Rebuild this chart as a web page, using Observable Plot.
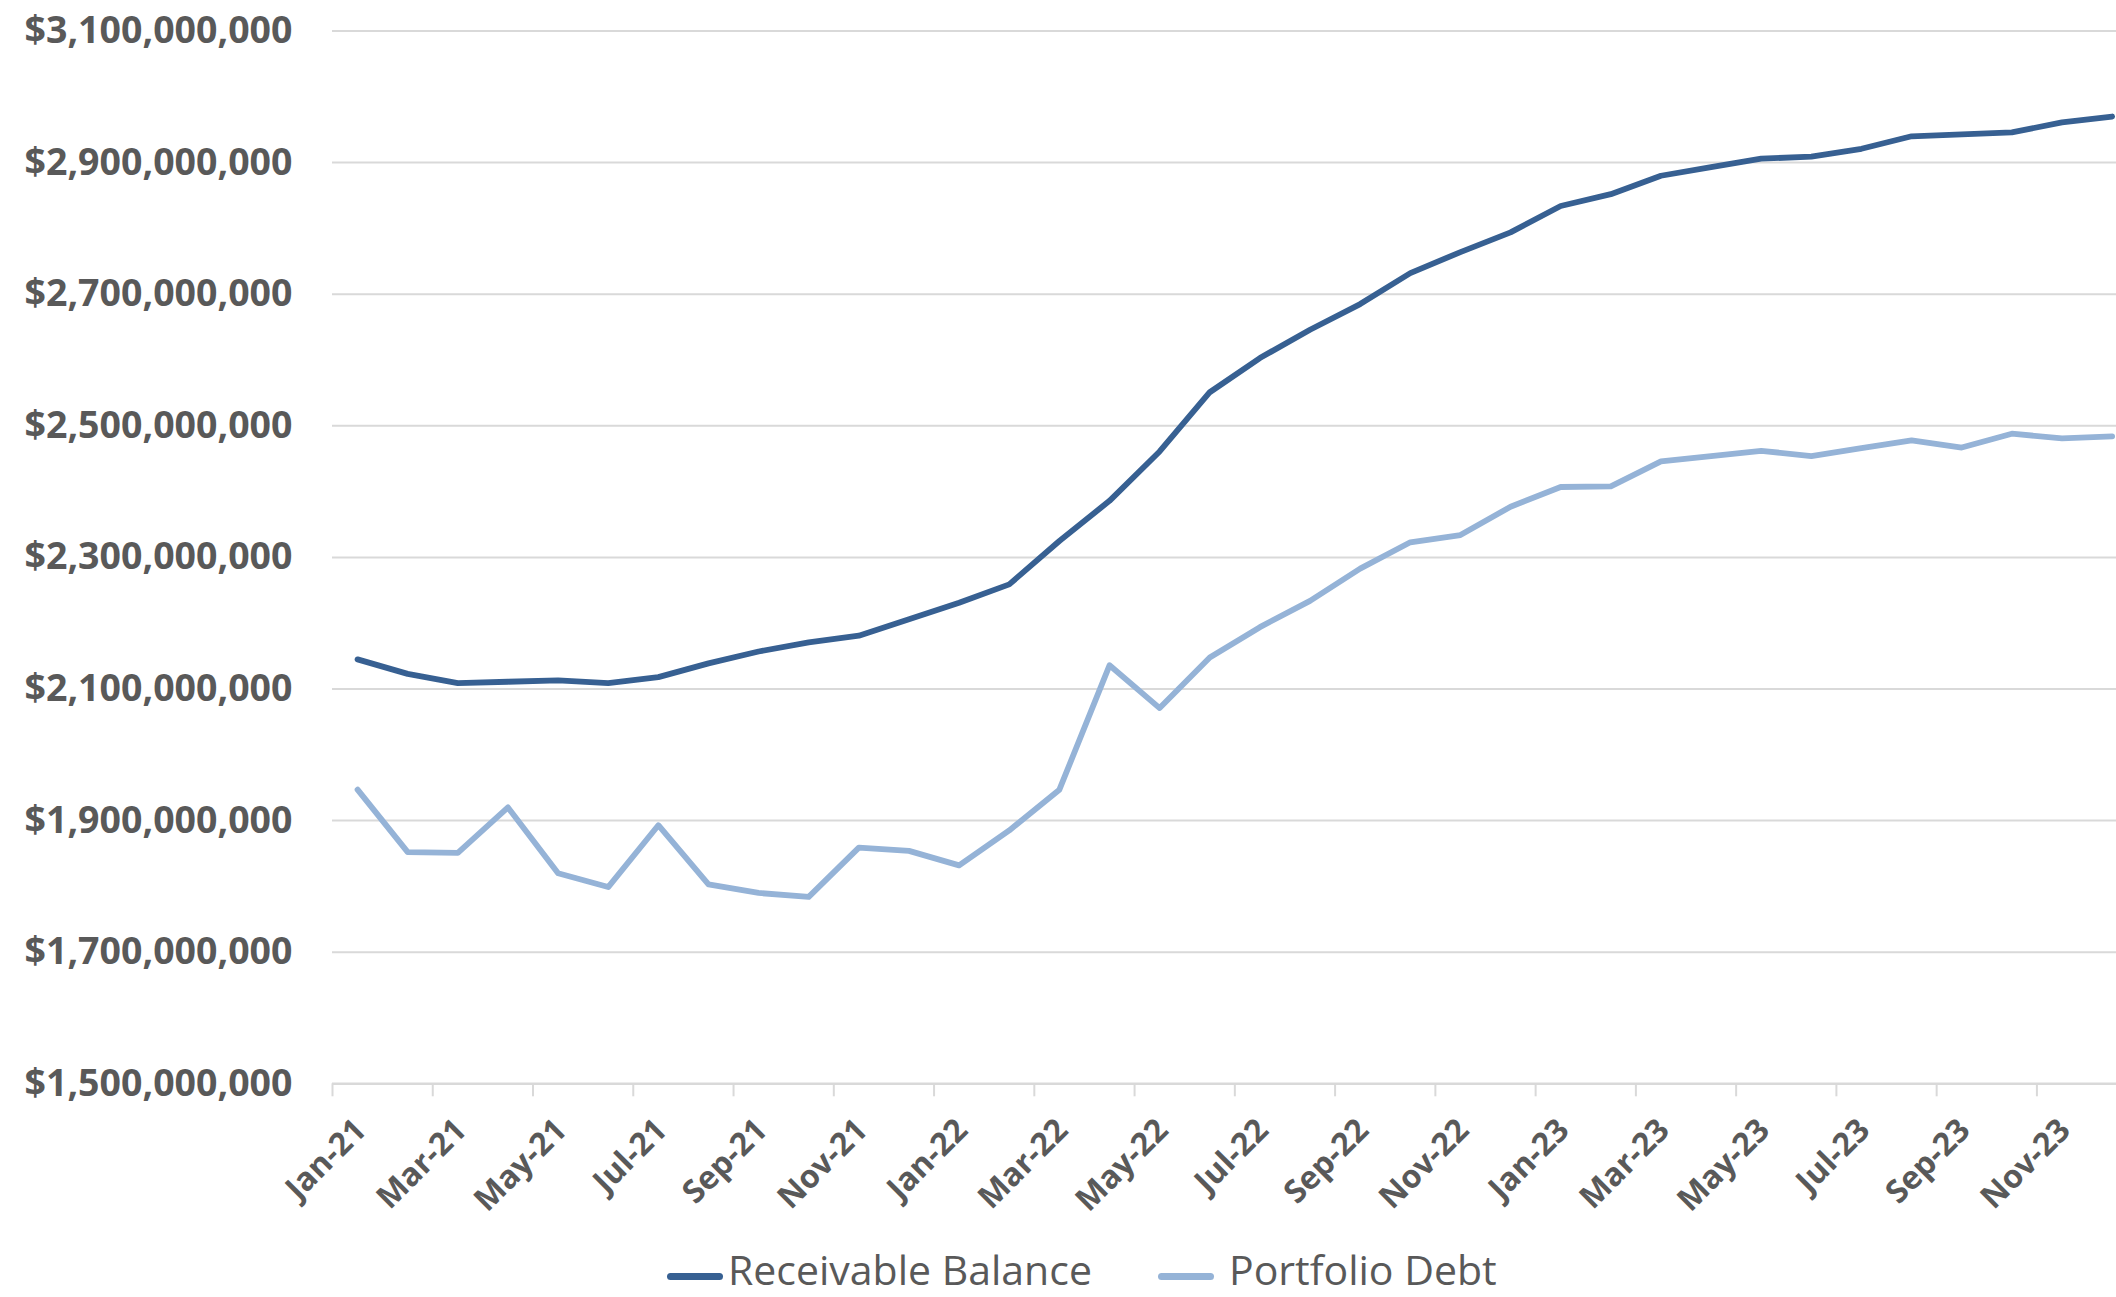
<!DOCTYPE html>
<html><head><meta charset="utf-8">
<script src="https://cdn.jsdelivr.net/npm/d3@7"></script>
<script src="https://cdn.jsdelivr.net/npm/@observablehq/plot@0.6"></script>
<style>
html,body{margin:0;padding:0;background:#fff;}
#chart svg{display:block;}
#legend{position:relative;width:2116px;height:52px;font-family:"Open Sans",sans-serif;}
.sw{position:absolute;height:7px;border-radius:4px;top:28px;}
.lt{position:absolute;font-size:41px;color:#595959;line-height:41px;top:4px;white-space:nowrap;}
</style></head><body>
<div id="chart"></div>
<div id="legend"></div>
<script>
const months = ["Jan-21","Feb-21","Mar-21","Apr-21","May-21","Jun-21","Jul-21","Aug-21","Sep-21","Oct-21","Nov-21","Dec-21",
  "Jan-22","Feb-22","Mar-22","Apr-22","May-22","Jun-22","Jul-22","Aug-22","Sep-22","Oct-22","Nov-22","Dec-22",
  "Jan-23","Feb-23","Mar-23","Apr-23","May-23","Jun-23","Jul-23","Aug-23","Sep-23","Oct-23","Nov-23","Dec-23"];
// values in millions of dollars
const receivableBalance = [2145,2123,2109,2111,2113,2109,2118,2139,2157,2171,2181,2206,
  2231,2259,2325,2386,2461,2551,2603,2646,2685,2732,2764,2794,
  2834,2852,2880,2893,2906,2909,2921,2940,2943,2946,2961,2970];
const portfolioDebt = [1947,1852,1851,1920,1820,1799,1893,1803,1790,1784,1859,1854,
  1832,1885,1947,2136,2071,2148,2194,2234,2283,2323,2334,2377,
  2407,2408,2446,2454,2462,2454,2466,2478,2467,2488,2481,2484];
const seriesNames = ["Receivable Balance","Portfolio Debt"];
const seriesColors = ["#376092","#95b3d7"];
const yTicks = [1.5e9,1.7e9,1.9e9,2.1e9,2.3e9,2.5e9,2.7e9,2.9e9,3.1e9];

const data = [];
months.forEach((m,i)=>{
  data.push({i, series: seriesNames[0], value: receivableBalance[i]*1e6});
  data.push({i, series: seriesNames[1], value: portfolioDebt[i]*1e6});
});

const H = 1245;
const chart = Plot.plot({
  width: 2116,
  height: H,
  marginLeft: 332,
  marginRight: 0,
  marginTop: 30.5,
  marginBottom: H - 1083.3,
  style: {fontFamily: "'Open Sans', sans-serif", fontWeight: "bold", color: "#595959", background: "#fff"},
  x: {type: "linear", domain: [-0.5, 35.5], range: [332, 332 + 36*50.13]},
  y: {domain: [1.5e9, 3.1e9]},
  color: {domain: seriesNames, range: seriesColors},
  marks: [
    Plot.gridY(yTicks.slice(1), {stroke: "#d9d9d9", strokeOpacity: 1, strokeWidth: 2}),
    Plot.axisY({ticks: yTicks, tickFormat: d3.format("$,"), tickSize: 0, tickPadding: 40, fontSize: 37.5, fontWeight: "bold", fill: "#595959", label: null}),
    Plot.ruleY([1.5e9], {stroke: "#d9d9d9", strokeWidth: 2.5}),
    Plot.axisX({ticks: d3.range(-0.5, 36, 2), tickFormat: () => "", tickSize: 13, stroke: "#d9d9d9", strokeWidth: 2, label: null}),
    Plot.axisX({ticks: d3.range(0, 36, 2), tickFormat: i => months[i], tickSize: 0, tickPadding: 41, tickRotate: -45, dx: 3, fontSize: 32, fontWeight: "bold", fill: "#595959", label: null}),
    Plot.line(data, {x: "i", y: "value", z: "series", stroke: "series", strokeWidth: 5.8, strokeLinejoin: "round", strokeLinecap: "round"})
  ]
});
document.getElementById("chart").appendChild(chart);

const legend = document.getElementById("legend");
const items = [
  {name: seriesNames[0], color: seriesColors[0], sx: 667, tx: 728},
  {name: seriesNames[1], color: seriesColors[1], sx: 1158, tx: 1229}
];
items.forEach(it => {
  const sw = document.createElement("div");
  sw.className = "sw"; sw.style.left = it.sx + "px"; sw.style.width = "56px"; sw.style.background = it.color;
  legend.appendChild(sw);
  const t = document.createElement("div");
  t.className = "lt"; t.style.left = it.tx + "px"; t.textContent = it.name;
  legend.appendChild(t);
});
</script>
</body></html>
